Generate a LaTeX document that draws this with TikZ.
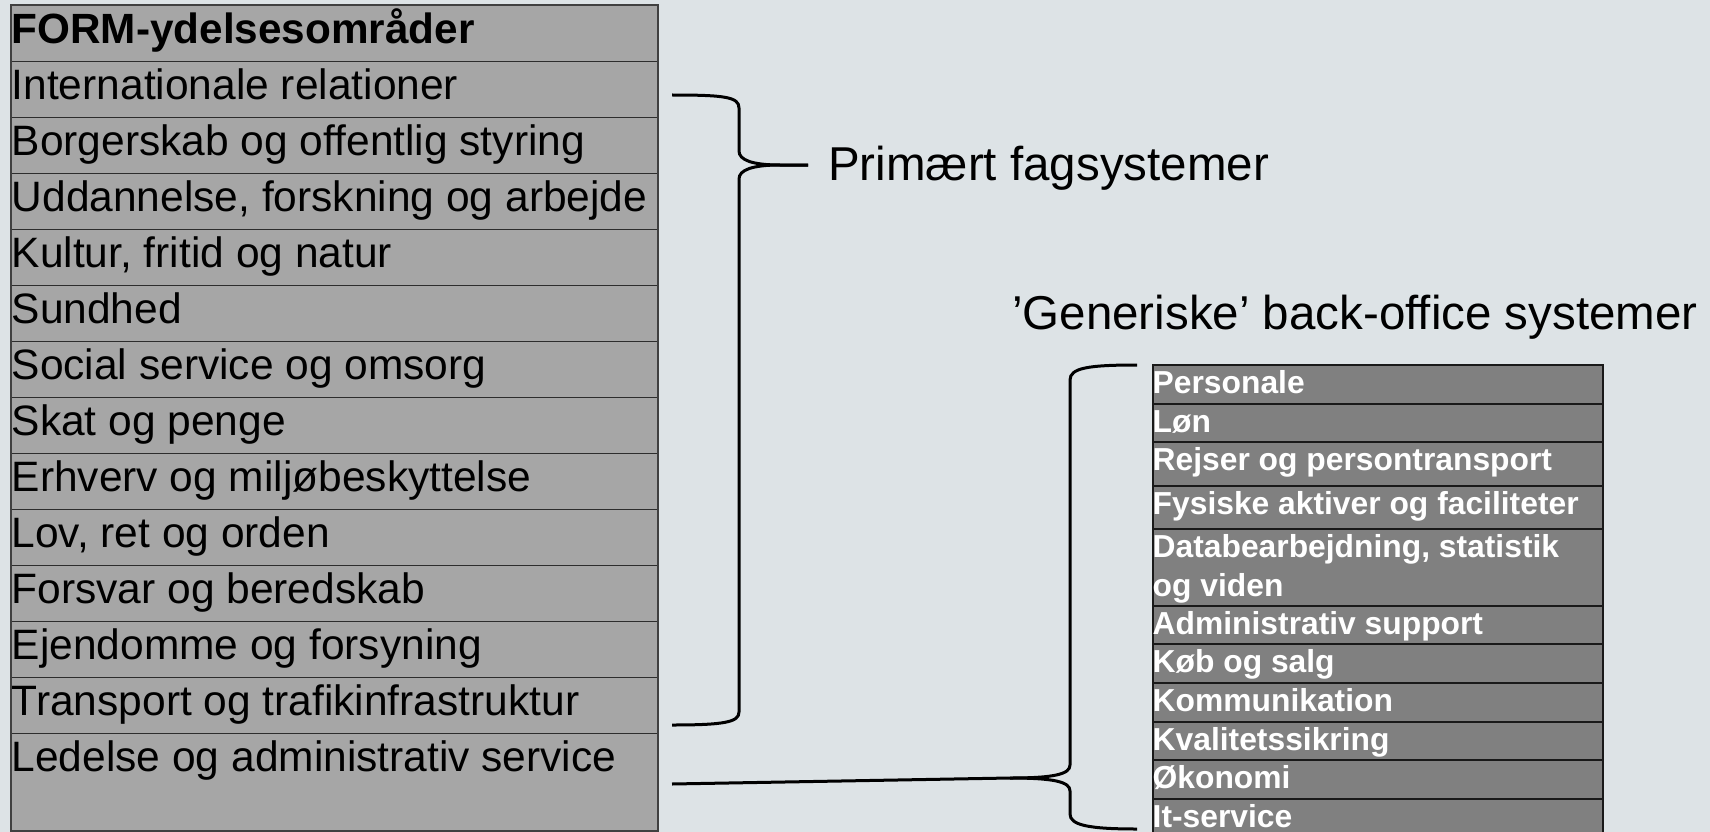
\documentclass[tikz,border=0pt]{standalone}
\usepackage{fontspec}
\setmainfont{Liberation Sans}
\definecolor{bgcol}{RGB}{221,227,230}
\definecolor{lgray}{RGB}{166,166,166}
\definecolor{dgray}{RGB}{128,128,128}
\definecolor{lline}{RGB}{45,45,45}
\begin{document}
\begin{tikzpicture}[x=1pt,y=-1pt,
  lrow/.style={draw=lline,line width=1.3pt,fill=lgray,inner sep=0pt,anchor=north west,minimum width=646pt,minimum height=56pt},
  rrow/.style={draw=black!90,line width=1.6pt,fill=dgray,inner sep=0pt,anchor=north west,minimum width=450pt},
  ltext/.style={anchor=base west,inner sep=0pt,font=\fontsize{42.5}{48}\selectfont,text=black},
  rtext/.style={anchor=base west,inner sep=0pt,font=\bfseries\fontsize{31.8}{38}\selectfont,text=white},
  labtext/.style={anchor=base west,inner sep=0pt,font=\fontsize{47.5}{54}\selectfont,text=black},
  bracestyle/.style={draw=black,line width=3pt}]
\useasboundingbox (0,0) rectangle (1710,832);
\clip (0,0) rectangle (1710,832);
\fill[bgcol] (0,0) rectangle (1710,832);
% left table
\foreach \txt [count=\i from 0] in {{FORM-ydelsesområder},{Internationale relationer},{Borgerskab og offentlig styring},{Uddannelse, forskning og arbejde},{Kultur, fritid og natur},{Sundhed},{Social service og omsorg},{Skat og penge},{Erhverv og miljøbeskyttelse},{Lov, ret og orden},{Forsvar og beredskab},{Ejendomme og forsyning},{Transport og trafikinfrastruktur}}{
  \node[lrow] (L\i) at (11,{5+56*\i}) {};
  \ifnum\i=0
    \node[ltext,font=\bfseries\fontsize{42.3}{48}\selectfont] (Lt\i) at ([xshift=0.5pt,yshift=-38.5pt]L\i.north west) {\txt};
  \else
    \node[ltext] (Lt\i) at ([xshift=0.5pt,yshift=-38.5pt]L\i.north west) {\txt};
  \fi
}
\node[lrow,minimum height=97pt] (L13) at (11,733) {};
\node[ltext] (Lt13) at ([xshift=0.5pt,yshift=-38.5pt]L13.north west) {Ledelse og administrativ service};
\draw[draw=black!75,line width=2pt] (L0.north west) rectangle (L13.south east);
% right table
\foreach \t/\h/\txt [count=\i] in {364/39/Personale,403/38/Løn,441/44/Rejser og persontransport,485/43/Fysiske aktiver og faciliteter,528/77/{Databearbejdning, statistik},605/38/Administrativ support,643/39/Køb og salg,682/39/Kommunikation,721/38/Kvalitetssikring,759/39/Økonomi,798/42/It-service}{
  \node[rrow,minimum height=\h pt] (R\i) at (1152,\t) {};
  \node[rtext] (Rt\i) at ([xshift=0.5pt,yshift=-29.5pt]R\i.north west) {\txt};
}
\node[rtext] (Rt5b) at ([yshift=-39pt]Rt5.base west) {og viden};
% labels
\node[labtext] (lab1) at (828,180) {Primært fagsystemer};
\node[labtext] (lab2) at (1012,329) {’Generiske’ back-office systemer};
% brace 1
\coordinate (b1top) at (672,95);
\coordinate (b1tip) at (808,165);
\coordinate (b1bot) at (672,725);
\draw[bracestyle] (b1top) .. controls (725,95) and (739,97) .. (739,108) -- (739,151)
  .. controls (739,160) and (752,165) .. (780,165) -- (b1tip);
\draw[bracestyle] (b1tip) -- (780,165) .. controls (752,165) and (739,170) .. (739,179)
  -- (739,712) .. controls (739,722) and (725,725) .. (b1bot);
% brace 2 and connector
\coordinate (lconn) at (672,784);
\coordinate (b2tip) at (1010,778);
\coordinate (b2top) at (1137,365);
\coordinate (b2bot) at (1137,829);
\draw[bracestyle] (lconn) -- (b2tip);
\draw[bracestyle] (b2top) .. controls (1088,365) and (1070,368) .. (1070,380) -- (1070,765)
  .. controls (1070,774) and (1055,778) .. (b2tip);
\draw[bracestyle] (b2tip) .. controls (1055,778) and (1070,782) .. (1070,791) -- (1070,814)
  .. controls (1070,825) and (1088,829) .. (b2bot);
\end{tikzpicture}
\end{document}
